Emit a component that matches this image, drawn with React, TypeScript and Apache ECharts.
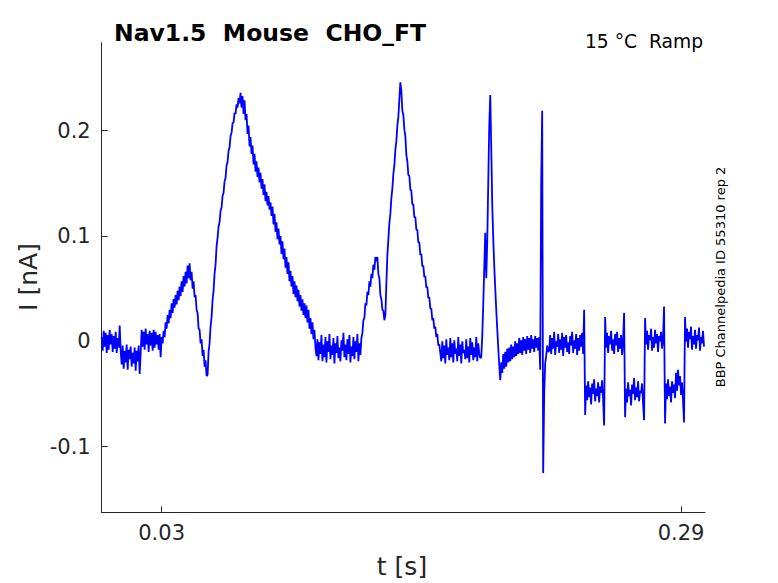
import React, { useEffect, useRef } from "react";
import * as echarts from "echarts";

// Sample interval of the recorded trace (s)
const SAMPLE_DT = 0.0005;

// Current samples in units of 1e-3 nA
const segBaseline1 = [4, -9, 10, -5, 8, -11, 6, -8, 11, -3, 7, -10, 5, -7, 9, -11, 3, -6, 15, -9];
const segStepDown = [-22, -4, -26, -9, -20, -3, -27, -8, -17, -5, -24, -11, -21, -6, -28, -9, -19, -4, -31, -12];
const segBaseline2 = [11, -5, 9, -8, 12, -3, 7, -10, 10, -4, 8, -9, 11, -6, 9, -3, 6, -8, 7, -15, 4];
const segRise1 = [-2, 10, 4, 18, 12, 25, 17, 30, 22, 36, 27, 40, 32, 44, 35, 48, 39, 52, 43, 57, 47, 62, 52, 66, 55, 72, 60, 74];
const segFall1 = [58, 66, 50, 57, 42, 44, 30, 27, 12, 11, -2, 2, -14, -8, -24, -18, -33];
const segRise2 = [-32, -10, -2, 14, 23, 39, 48, 64, 73, 90, 98, 109, 113, 124, 127, 138, 141, 152, 155, 167, 170, 181, 184, 195, 198, 207, 208, 217, 216, 225, 222, 231, 226, 236];
const segFall2 = [
  222, 233, 216, 229, 210, 216, 197, 205, 185, 194,
  178, 186, 168, 178, 161, 171, 156, 165, 151, 160,
  145, 154, 139, 149, 133, 142, 129, 138, 125, 132,
  119, 128, 111, 121, 104, 113, 97, 107, 92, 100,
  83, 95, 78, 88, 70, 80, 64, 75, 57, 67,
  52, 62, 45, 57, 42, 53, 38, 49, 33, 44,
  29, 40, 25, 36, 22, 34, 18, 30, 12, 22,
  7, 18, 2, 11, -6,
];
const segFlat1 = [
  -14, 2, -18, -1, -12, 6, -19, -3, -15, 4,
  -20, 0, -10, 7, -17, -4, -13, 3, -21, -2,
  -11, 5, -16, -6, -19, 1, -9, 8, -15, -3,
  -18, 2, -12, 6, -20, -5, -14, 4, -17, 0,
  -10, 7, -19, -2, -13, 3,
];
const segRise3 = [
  8, 20, 22, 36, 34, 47, 44, 57, 52, 64,
  60, 73, 68, 80, 76, 80, 64, 60, 44, 40,
  30, 29, 20, 25, 55, 82, 97, 112, 121, 136,
  145, 159, 167, 182, 190, 205, 213, 230, 246,
];
const segFall3 = [
  238, 219, 215, 201, 195, 177, 171, 158, 157, 144,
  143, 130, 130, 118, 118, 106, 106, 94, 94, 82,
  83, 71, 72, 61, 62, 51, 52, 41, 42, 31,
  31, 20, 22, 12, 14, 4, 7, -4, -3,
];
const segFlat2 = [
  -11, -19, 0, -16, -4, -21, 2, -13, -6, -18,
  3, -15, -2, -20, 1, -12, -7, -19, 4, -14,
  -3, -21, 0, -11, -8, -17, 2, -16, -5, -20,
  3, -13, -1, -18, -6, -15, 4, -19, -2, -12, -16,
];
const segSpike1 = [-15, 5, 35, 70, 103, 60, 95, 150, 205, 234, 185, 130, 98, 72, 50, 30, 12, -6, -22];
const segRecover1 = [
  -37, -20, -30, -12, -26, -10, -24, -7, -20, -6,
  -19, -3, -17, -5, -15, 0, -14, -2, -12, 3,
  -11, 1, -13, 4, -9, 2, -12, 5, -8, 3,
  -11, 6, -7, 2, -10, 5, -6, 3, -9, 4,
];
const segSpike2 = [-27, 150, 219, -125, -50, -21, -14, -4, -10];
const segFlat3 = [
  -9, 6, -12, 3, -7, 9, -13, 0, -5, 7,
  -11, 2, -8, 8, -14, 4, -6, 6, -10, -1,
  -12, 5, -4, 9, -11, 1, -7, 7, -13, 3,
  -9, 6, -5, 8, -12,
];
const segStepLow1 = [30, -70, -42, -56, -38, -53, -44, -60, -40, -50, -36, -57, -45, -52, -39, -58, -43, -49, -37, -55];
const segStepHigh1 = [-80, 23, -6, 8, -11, 5, -3, 10, -9, 2, -12, 7, -4, 9, -10, 3, -7, 6, -13, 1];
const segStepLow2 = [27, -72, -45, -58, -39, -52, -46, -61, -41, -50, -35, -56, -44, -53, -38, -57, -47, -49, -40, -59];
const segStepHigh2 = [-75, 22, -3, 10, -8, 6, 1, 12, -9, 4, -6, 11, -2, 7, -10, 5, 0, 9, -7, 3];
const segStepLow3 = [33, -78, -40, -55, -36, -52, -43, -58, -38, -49, -41, -54, -30, -47, -27, -42, -33, -51, -39, -56];
const segStepHigh3 = [-77, 23, 0, 12, -6, 9, 2, 14, -8, 5, -3, 11, -7, 6, 1, 13, -9, 4, -2, 10, -5];

const currentMilliNA = [
  ...segBaseline1, ...segStepDown, ...segBaseline2, ...segRise1, ...segFall1,
  ...segRise2, ...segFall2, ...segFlat1, ...segRise3, ...segFall3, ...segFlat2,
  ...segSpike1, ...segRecover1, ...segSpike2, ...segFlat3,
  ...segStepLow1, ...segStepHigh1, ...segStepLow2, ...segStepHigh2, ...segStepLow3, ...segStepHigh3,
];

const X_TICKS = [0.03, 0.29];
const Y_TICKS = [-0.1, 0, 0.1, 0.2];
const X_RANGE = [0, 0.302];
const Y_RANGE = [-0.1624, 0.2836];

const TITLE = "Nav1.5  Mouse  CHO_FT";
const SUBTITLE = "15 °C  Ramp";
const SIDE_NOTE = "BBP Channelpedia ID 55310 rep 2";
const X_NAME = "t [s]";
const Y_NAME = "I [nA]";

const AXIS_COLOR = "#262626";
const FONT = '"DejaVu Sans", sans-serif';

export default function App() {
  const ref = useRef<HTMLDivElement>(null);

  useEffect(() => {
    if (!ref.current) return;
    const chart = echarts.init(ref.current, null, { renderer: "svg" });
    const data = currentMilliNA.map((v, i) => [i * SAMPLE_DT, v / 1000]);

    chart.setOption({
      animation: false,
      backgroundColor: "#ffffff",
      grid: { left: 101.7, right: 73, top: 42.7, bottom: 70.7 },
      xAxis: {
        type: "value",
        min: X_RANGE[0],
        max: X_RANGE[1],
        axisLine: { show: true, onZero: false, lineStyle: { color: AXIS_COLOR, width: 1 } },
        axisTick: { show: true, inside: true, length: 6, customValues: X_TICKS, lineStyle: { color: AXIS_COLOR, width: 1 } },
        axisLabel: {
          customValues: X_TICKS,
          color: AXIS_COLOR,
          fontSize: 21,
          fontFamily: FONT,
          margin: 10,
          formatter: (v: number) => v.toFixed(2),
        },
        splitLine: { show: false },
      },
      yAxis: {
        type: "value",
        min: Y_RANGE[0],
        max: Y_RANGE[1],
        axisLine: { show: true, onZero: false, lineStyle: { color: AXIS_COLOR, width: 1 } },
        axisTick: { show: true, inside: true, length: 6, customValues: Y_TICKS, lineStyle: { color: AXIS_COLOR, width: 1 } },
        axisLabel: {
          customValues: Y_TICKS,
          color: AXIS_COLOR,
          fontSize: 21,
          fontFamily: FONT,
          margin: 11,
          formatter: (v: number) => (Math.abs(v) < 1e-9 ? "0" : v.toFixed(1)),
        },
        splitLine: { show: false },
      },
      series: [
        {
          type: "line",
          data,
          symbol: "none",
          showSymbol: false,
          silent: true,
          clip: true,
          lineStyle: { color: "#0000ff", width: 1.8, join: "bevel" },
        },
      ],
      graphic: [
        {
          type: "text",
          x: 114,
          y: 33,
          style: { text: TITLE, fill: "#000000", font: `bold 23.5px ${FONT}`, textAlign: "left", textVerticalAlign: "middle" },
        },
        {
          type: "text",
          x: 703,
          y: 41,
          style: { text: SUBTITLE, fill: "#000000", font: `18.7px ${FONT}`, textAlign: "right", textVerticalAlign: "middle" },
        },
        {
          type: "text",
          x: 720,
          y: 277,
          rotation: Math.PI / 2,
          style: { text: SIDE_NOTE, fill: "#000000", font: `13px ${FONT}`, textAlign: "center", textVerticalAlign: "middle" },
        },
        {
          type: "text",
          x: 402,
          y: 566,
          style: { text: X_NAME, fill: AXIS_COLOR, font: `25px ${FONT}`, textAlign: "center", textVerticalAlign: "middle" },
        },
        {
          type: "text",
          x: 28,
          y: 277,
          rotation: Math.PI / 2,
          style: { text: Y_NAME, fill: AXIS_COLOR, font: `25px ${FONT}`, textAlign: "center", textVerticalAlign: "middle" },
        },
      ],
    });

    return () => chart.dispose();
  }, []);

  return (
    <div
      ref={ref}
      style={{ position: "fixed", left: 0, top: 0, width: 778, height: 583, background: "#ffffff" }}
    />
  );
}
